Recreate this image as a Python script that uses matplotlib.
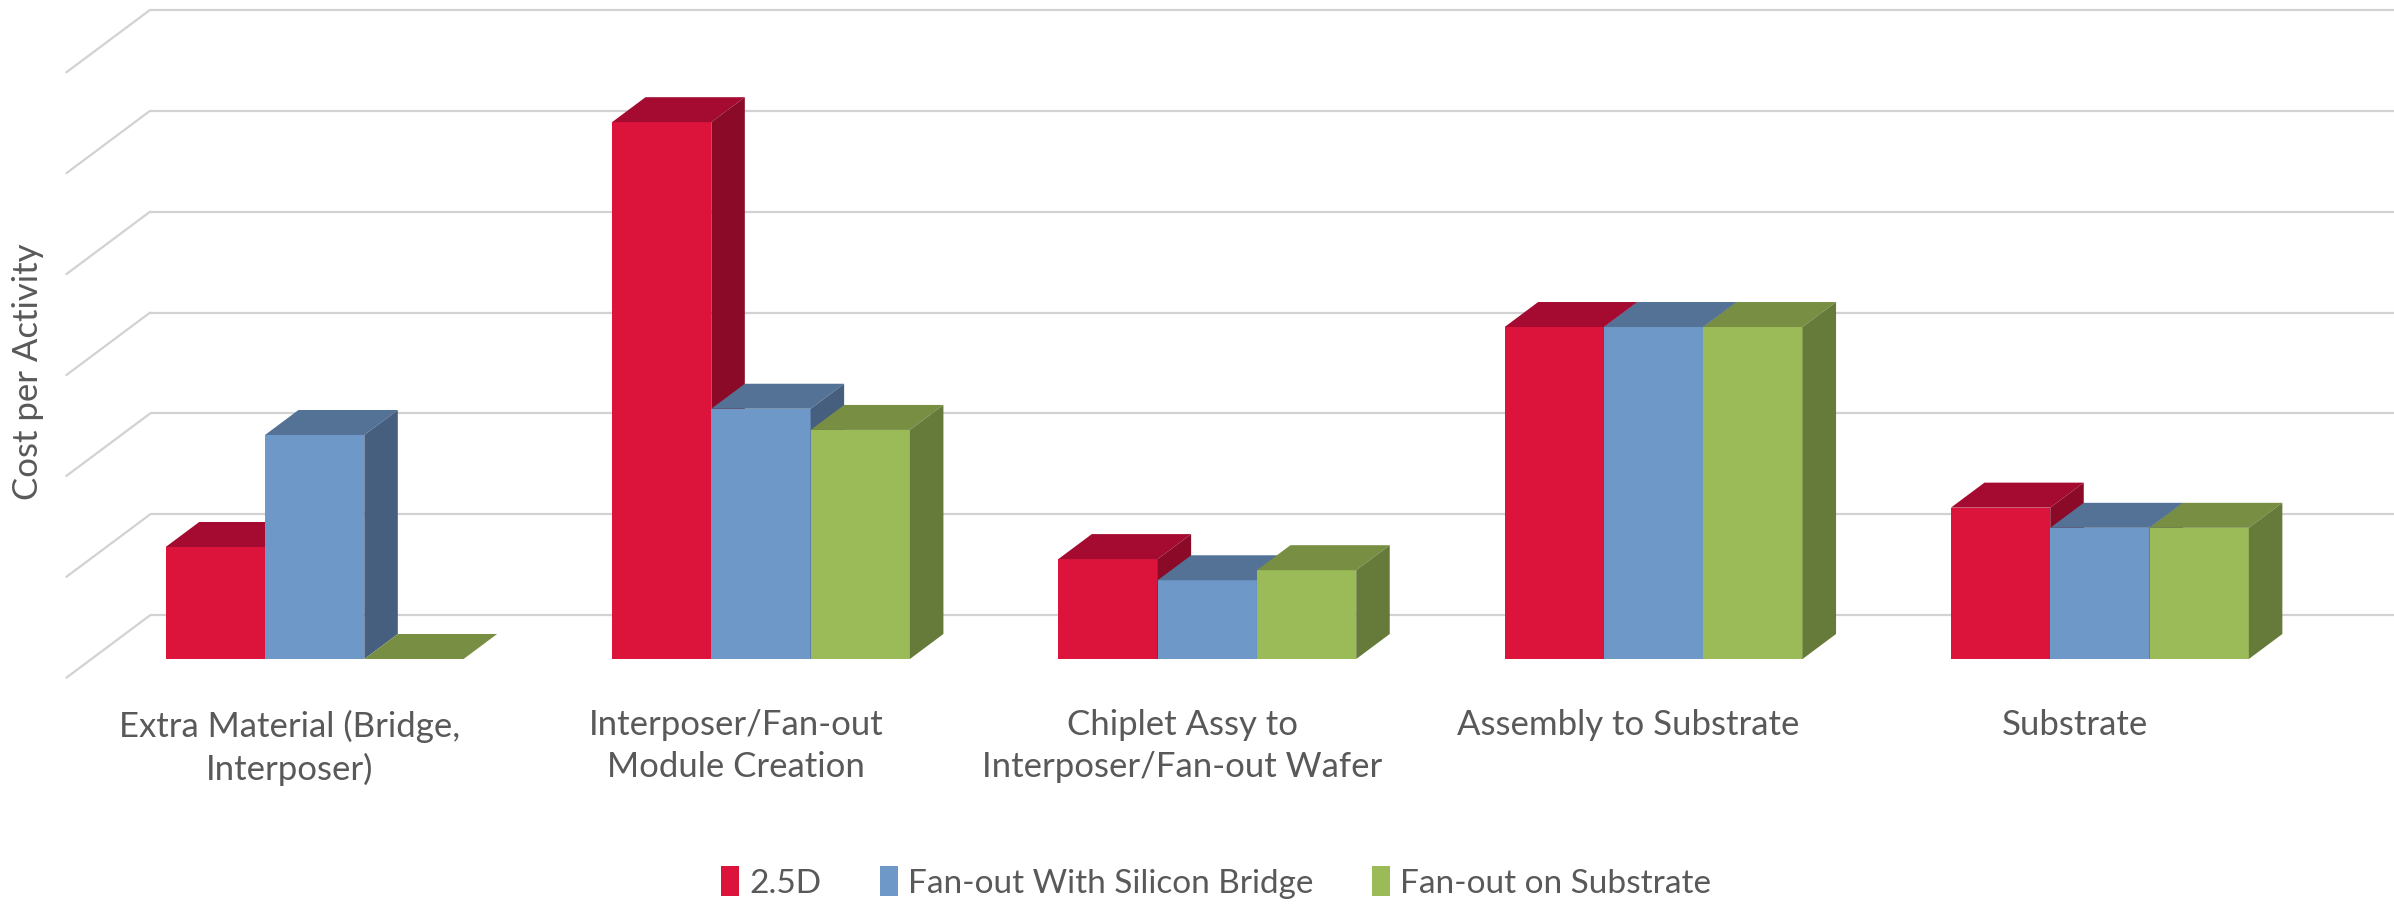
import matplotlib.pyplot as plt
from matplotlib.patches import Polygon, Patch

# Data (value axis has no tick labels, one unit = one gridline step)
categories = ["Extra Material (Bridge,\nInterposer)",
              "Interposer/Fan-out\nModule Creation",
              "Chiplet Assy to\nInterposer/Fan-out Wafer",
              "Assembly to Substrate",
              "Substrate"]
series_names = ["2.5D", "Fan-out With Silicon Bridge", "Fan-out on Substrate"]
cost_25d = [1.11, 5.32, 0.99, 3.29, 1.50]
cost_bridge = [2.22, 2.48, 0.78, 3.29, 1.30]
cost_substrate = [0.0, 2.27, 0.88, 3.29, 1.30]
grid_levels = [0, 1, 2, 3, 4, 5, 6]

# front / top / side colours per series
colors = [("#DC143C", "#A50B30", "#8A0A28"),
          ("#6E98C8", "#537296", "#465F7F"),
          ("#9BBB59", "#778E43", "#667A3A")]
text_color = "#595959"
grid_color = "#D2D2D2"

plt.rcParams['font.family'] = ['Lato', 'DejaVu Sans']

# Projection settings (data units)
BAR_W = 0.2225      # width of one column, one category = 1.0
DDX = 0.0751        # depth offset of a column in x
DDY = 0.2478        # depth offset of a column in y
WALL_BACK = 1.75    # back wall depth (in column depths)
FLOOR_FRONT = -0.75 # front edge of floor


def draw_walls(ax, xmax):
    for k in grid_levels:
        x_back = -0.5 + WALL_BACK * DDX
        y_back = k + WALL_BACK * DDY
        ax.plot([x_back, xmax], [y_back, y_back], color=grid_color, lw=1.6,
                solid_capstyle='butt', zorder=1)
        ax.plot([-0.5 + FLOOR_FRONT * DDX, x_back], [k + FLOOR_FRONT * DDY, y_back],
                color=grid_color, lw=1.6, solid_capstyle='round', zorder=1)


def draw_column(ax, x0, v, cols, z):
    front, top, side = cols
    ax.bar([x0], [v], width=BAR_W, align='edge', color=front, lw=0, zorder=z)
    ax.add_patch(Polygon([(x0, v), (x0 + BAR_W, v), (x0 + BAR_W + DDX, v + DDY), (x0 + DDX, v + DDY)],
                         closed=True, facecolor=top, lw=0, zorder=z))
    if v > 0:
        ax.add_patch(Polygon([(x0 + BAR_W, 0), (x0 + BAR_W + DDX, DDY),
                              (x0 + BAR_W + DDX, v + DDY), (x0 + BAR_W, v)],
                             closed=True, facecolor=side, lw=0, zorder=z))


def main():
    fig = plt.figure(figsize=(23.94, 9.06), dpi=100)
    ax = fig.add_axes([0, 0, 1, 1])
    xmin, xmax = -0.705, 4.659
    ax.set_xlim(xmin, xmax)
    ax.set_ylim(-2.448, 6.531)
    ax.axis('off')

    draw_walls(ax, xmax)

    all_series = [cost_25d, cost_bridge, cost_substrate]
    z = 5
    for g in range(len(categories)):
        for s, vals in enumerate(all_series):
            x0 = g - 1.5 * BAR_W + s * BAR_W
            draw_column(ax, x0, vals[g], colors[s], z)
            z += 1

    # category labels sit on the front edge of the floor
    for g, label in enumerate(categories):
        ax.text(g + FLOOR_FRONT * DDX, -0.50, label, ha='center', va='top',
                fontsize=25, color=text_color, linespacing=1.38)

    fig.text(0.0115, 0.59, "Cost per Activity", rotation=90, ha='center', va='center',
             fontsize=25, color=text_color)

    handles = [Patch(facecolor=c[0]) for c in colors]
    fig.legend(handles, series_names, loc='center', bbox_to_anchor=(0.508, 0.026),
               ncol=3, frameon=False, fontsize=24, labelcolor=text_color,
               handlelength=0.55, handleheight=1.0, handletextpad=0.3, columnspacing=1.75)

    fig.savefig("out.png", dpi=100)


main()
